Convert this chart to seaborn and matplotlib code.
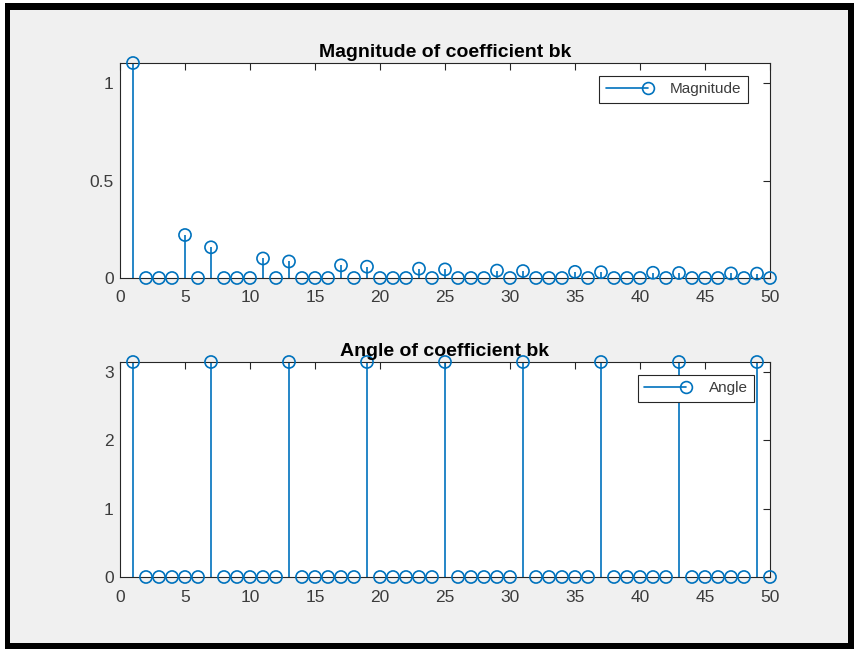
import numpy as np
import matplotlib
matplotlib.use("Agg")
import matplotlib.pyplot as plt
from matplotlib.lines import Line2D
from matplotlib.patches import Rectangle
from matplotlib.legend_handler import HandlerLine2D
import seaborn as sns

# harmonic index k = 1..50
k = list(range(1, 51))

# |bk| (non-zero only for k not divisible by 2 or 3)
magnitude = [1.1027, 0, 0, 0, 0.2205, 0, 0.1575, 0, 0, 0,
             0.1002, 0, 0.0848, 0, 0, 0, 0.0649, 0, 0.0580, 0,
             0, 0, 0.0479, 0, 0.0441, 0, 0, 0, 0.0380, 0,
             0.0356, 0, 0, 0, 0.0315, 0, 0.0298, 0, 0, 0,
             0.0269, 0, 0.0256, 0, 0, 0, 0.0235, 0, 0.0225, 0]

# angle of bk (pi at k = 1, 7, 13, ..., 49)
angle = [3.1416, 0, 0, 0, 0, 0, 3.1416, 0, 0, 0,
         0, 0, 3.1416, 0, 0, 0, 0, 0, 3.1416, 0,
         0, 0, 0, 0, 3.1416, 0, 0, 0, 0, 0,
         3.1416, 0, 0, 0, 0, 0, 3.1416, 0, 0, 0,
         0, 0, 3.1416, 0, 0, 0, 0, 0, 3.1416, 0]

titles = ["Magnitude of coefficient bk", "Angle of coefficient bk"]
labels = ["Magnitude", "Angle"]
yticks = [[0, 0.5, 1], [0, 1, 2, 3]]
ytick_labels = [["0", "0.5", "1"], ["0", "1", "2", "3"]]
xticks = list(range(0, 51, 5))

blue = "#0072BD"
axcol = "#262626"
labcol = "#3c3c3c"

sns.set_style("white")
plt.rcParams["font.family"] = ["Liberation Sans", "DejaVu Sans"]


class StemHandler(HandlerLine2D):
    # MATLAB-style legend entry: line with the circle at its right end
    def create_artists(self, legend, orig_handle, xdescent, ydescent,
                       width, height, fontsize, trans):
        arts = super().create_artists(legend, orig_handle, xdescent, ydescent,
                                      width, height, fontsize, trans)
        arts[0].set_markevery([2])
        return arts


fig = plt.figure(figsize=(8.66, 6.62), dpi=100, facecolor="white")
W, H = 866, 662
fig.patches.append(Rectangle((5 / W, 1 - 649 / H), 849 / W, 646 / H,
                             transform=fig.transFigure, facecolor="black",
                             edgecolor="none", zorder=-2))
fig.patches.append(Rectangle((10 / W, 1 - 643 / H), 838 / W, 633 / H,
                             transform=fig.transFigure, facecolor="#f0f0f0",
                             edgecolor="none", zorder=-1))

ax1 = fig.add_axes([120 / W, 1 - 278 / H, 650 / W, 215 / H])
ax2 = fig.add_axes([120 / W, 1 - 577 / H, 650 / W, 215 / H])

# legend upper-right corner in axes coords
leg_anchor = [(0.966, 0.9395), (0.9754, 0.9395)]

for i, (ax, vals) in enumerate(zip([ax1, ax2], [magnitude, angle])):
    ax.vlines(k, 0, vals, color=blue, linewidth=1.2, zorder=2, clip_on=False)
    sns.scatterplot(x=k, y=vals, ax=ax, marker="o", s=76, color=blue,
                    facecolor="none", edgecolor=blue, linewidth=1.2,
                    zorder=3, clip_on=False)
    ax.set_xlim(0, 50)
    ax.set_ylim(0, max(vals))
    ax.set_xticks(xticks)
    ax.set_xticklabels([str(t) for t in xticks])
    ax.set_yticks(yticks[i])
    ax.set_yticklabels(ytick_labels[i])
    ax.tick_params(direction="in", length=5, width=0.8, top=True, right=True,
                   labelsize=12.5, colors=axcol, labelcolor=labcol)
    ax.tick_params(axis="x", pad=9)
    ax.tick_params(axis="y", pad=4.5)
    for sp in ax.spines.values():
        sp.set_visible(True)
        sp.set_color(axcol)
        sp.set_linewidth(0.8)
    ax.set_facecolor("white")
    ax.set_title(titles[i], fontsize=14, fontweight="bold", color="black",
                 pad=4)
    handle = Line2D([], [], color=blue, linewidth=1.2, marker="o",
                    markersize=8.5, markerfacecolor="none",
                    markeredgecolor=blue, markeredgewidth=1.2)
    leg = ax.legend([handle], [labels[i]], loc="upper right",
                    bbox_to_anchor=leg_anchor[i], borderaxespad=0,
                    handler_map={Line2D: StemHandler()}, fontsize=11,
                    frameon=True, fancybox=False, edgecolor=axcol,
                    framealpha=1, handlelength=2.75, handletextpad=1.45,
                    borderpad=0.42, labelcolor=labcol)
    leg.get_frame().set_linewidth(0.8)
    leg.set_zorder(5)

fig.savefig("out.png", dpi=100, facecolor=fig.get_facecolor())
